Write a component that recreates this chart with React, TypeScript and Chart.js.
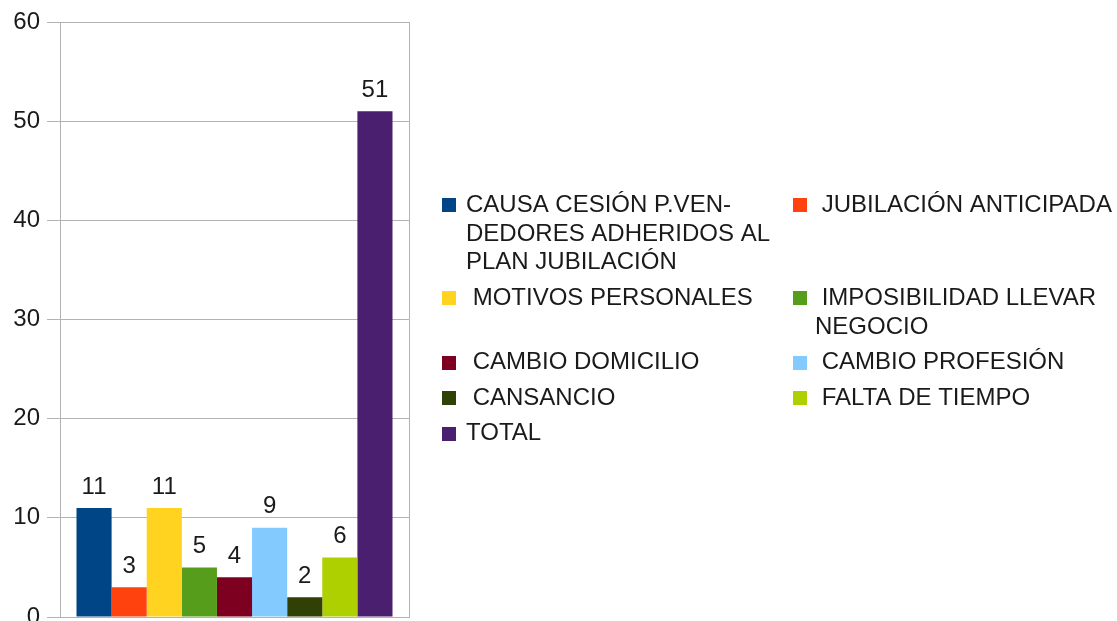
import React, { useEffect, useRef } from "react";
import { Chart, registerables } from "chart.js";

Chart.register(...registerables);

const categories: string[] = [""];

const seriesLabels: string[][] = [
  ["CAUSA CESIÓN P.VEN-", "DEDORES ADHERIDOS AL", "PLAN JUBILACIÓN"],
  [" JUBILACIÓN ANTICIPADA"],
  [" MOTIVOS PERSONALES"],
  [" IMPOSIBILIDAD LLEVAR", "NEGOCIO"],
  [" CAMBIO DOMICILIO"],
  [" CAMBIO PROFESIÓN"],
  [" CANSANCIO"],
  [" FALTA DE TIEMPO"],
  ["TOTAL"],
];

const seriesValues: number[] = [11, 3, 11, 5, 4, 9, 2, 6, 51];

const seriesColors: string[] = [
  "#004586",
  "#ff420e",
  "#ffd320",
  "#579d1c",
  "#7e0021",
  "#83caff",
  "#314004",
  "#aecf00",
  "#4b1f6f",
];

const yMin = 0;
const yMax = 60;
const yStep = 10;

const FONT = "'Liberation Sans', Arial, sans-serif";
const FONT_SIZE = 24;
const TEXT_COLOR = "#1a1a1a";
const GRID_COLOR = "#b3b3b3";

const valueLabelPlugin = {
  id: "valueLabels",
  afterDatasetsDraw(chart: any) {
    const ctx = chart.ctx;
    ctx.save();
    ctx.font = `${FONT_SIZE}px ${FONT}`;
    ctx.fillStyle = TEXT_COLOR;
    ctx.textAlign = "center";
    ctx.textBaseline = "middle";
    chart.data.datasets.forEach((ds: any, i: number) => {
      const meta = chart.getDatasetMeta(i);
      meta.data.forEach((bar: any, j: number) => {
        const v = ds.data[j];
        ctx.fillText(String(v), bar.x, bar.y - 21);
      });
    });
    ctx.restore();
  },
};

const legendPlugin = {
  id: "customLegend",
  afterDraw(chart: any) {
    const ctx = chart.ctx;
    const area = chart.chartArea;
    const lineH = 28.7;
    const gap = 6.8;
    const boxX = [442, 793];
    const textX = [466, 815];
    const box = 14;
    const n = chart.data.datasets.length;
    const rows: number[] = [];
    for (let i = 0; i < n; i += 2) {
      const a = (chart.data.datasets[i] as any).legendLines.length;
      const b = i + 1 < n ? (chart.data.datasets[i + 1] as any).legendLines.length : 0;
      rows.push(Math.max(a, b));
    }
    const total = rows.reduce((s, r) => s + r * lineH, 0) + (rows.length - 1) * gap;
    let y = (area.top + area.bottom) / 2 - total / 2;
    ctx.save();
    ctx.font = `${FONT_SIZE}px ${FONT}`;
    ctx.textBaseline = "middle";
    ctx.textAlign = "left";
    rows.forEach((r, ri) => {
      for (let c = 0; c < 2; c++) {
        const idx = ri * 2 + c;
        if (idx >= n) continue;
        const ds: any = chart.data.datasets[idx];
        const cy = y + lineH / 2;
        ctx.fillStyle = ds.backgroundColor;
        ctx.fillRect(boxX[c], Math.round(cy - box / 2), box, box);
        ctx.fillStyle = TEXT_COLOR;
        ds.legendLines.forEach((line: string, li: number) => {
          ctx.fillText(line, textX[c], cy + li * lineH);
        });
      }
      y += r * lineH + gap;
    });
    ctx.restore();
  },
};

export default function App() {
  const canvasRef = useRef<HTMLCanvasElement | null>(null);

  useEffect(() => {
    document.body.style.margin = "0";
    document.body.style.overflow = "hidden";
    const canvas = canvasRef.current;
    if (!canvas) return;
    const chart = new Chart(canvas, {
      type: "bar",
      data: {
        labels: categories,
        datasets: seriesValues.map((v, i) => ({
          label: seriesLabels[i].join(" ").trim(),
          legendLines: seriesLabels[i],
          data: [v],
          backgroundColor: seriesColors[i],
          borderWidth: 0,
          categoryPercentage: 0.9055,
          barPercentage: 1,
        })) as any,
      },
      options: {
        responsive: false,
        animation: false,
        devicePixelRatio: 1,
        layout: {
          padding: { left: 0, top: 22, right: 708, bottom: 23 },
        },
        plugins: {
          legend: { display: false },
          tooltip: { enabled: false },
          title: { display: false },
        },
        scales: {
          x: {
            type: "category",
            offset: true,
            grid: {
              display: true,
              offset: true,
              drawTicks: false,
              color: GRID_COLOR,
              lineWidth: 1,
            },
            border: { display: true, color: GRID_COLOR },
            ticks: { display: false },
            afterFit(scale: any) {
              scale.height = 0;
            },
          },
          y: {
            min: yMin,
            max: yMax,
            ticks: {
              stepSize: yStep,
              padding: 7,
              color: TEXT_COLOR,
              font: { family: FONT, size: FONT_SIZE },
            },
            grid: {
              color: GRID_COLOR,
              tickLength: 13,
              lineWidth: 1,
            },
            border: { display: true, color: GRID_COLOR },
            afterFit(scale: any) {
              scale.width = 60;
            },
          },
        },
      } as any,
      plugins: [valueLabelPlugin, legendPlugin],
    });
    return () => chart.destroy();
  }, []);

  return (
    <div style={{ width: 1117, height: 640, overflow: "hidden", background: "#fff" }}>
      <canvas ref={canvasRef} width={1117} height={640} style={{ display: "block" }} />
    </div>
  );
}
